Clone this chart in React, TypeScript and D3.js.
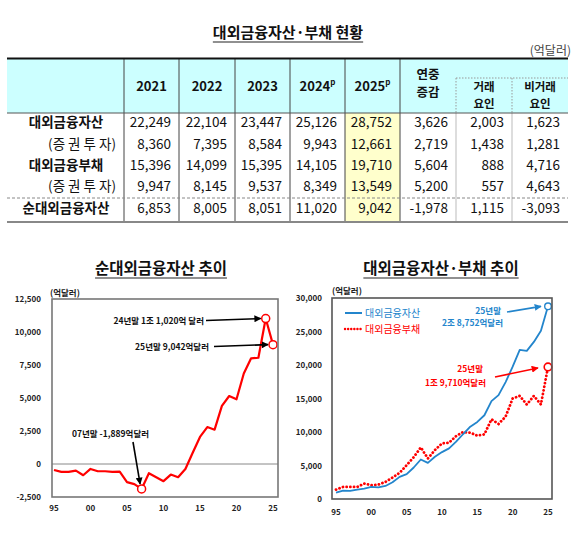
import React, { useRef, useEffect } from 'react';
import * as d3 from 'd3';

const FONT = '"Noto Sans CJK KR", "Noto Sans", sans-serif';

// ---- table data (억달러) ----
const tableYears = ['2021', '2022', '2023', '2024', '2025'];
const prelimYears = ['2024', '2025'];
const changeHeaders = [['연중', '증감'], ['거래', '요인'], ['비거래', '요인']];
const rowLabels = ['대외금융자산', '(증 권 투 자)', '대외금융부채', '(증 권 투 자)', '순대외금융자산'];
const assetsRow = [22249, 22104, 23447, 25126, 28752, 3626, 2003, 1623];
const assetsSecRow = [8360, 7395, 8584, 9943, 12661, 2719, 1438, 1281];
const liabRow = [15396, 14099, 15395, 14105, 19710, 5604, 888, 4716];
const liabSecRow = [9947, 8145, 9537, 8349, 13549, 5200, 557, 4643];
const netRow = [6853, 8005, 8051, 11020, 9042, -1978, 1115, -3093];

// ---- trend data, year-end (억달러) ----
const trendYears = d3.range(1995, 2026);
const netAssets = [
  -450, -600, -600, -500, -850, -375, -550, -550, -600, -575,
  -1375, -1525, -1889, -700, -1000, -1300, -800, -1000, -375, 850,
  2050, 2800, 2600, 4400, 5150, 4900, 6853, 8005, 8051, 11020, 9042,
];
const foreignAssets = [
  950, 1250, 1200, 1400, 1550, 1800, 1750, 1950, 2500, 3300,
  3700, 4700, 5900, 5400, 6300, 7000, 7550, 8550, 9700, 10800,
  11500, 12500, 14600, 15500, 17450, 19750, 22249, 22104, 23447, 25126, 28752,
];
const foreignLiabs = [
  1400, 1800, 1800, 1800, 2300, 2050, 2150, 2550, 3200, 3900,
  5050, 6250, 7700, 6050, 7300, 8300, 8400, 9400, 10000, 9900,
  9450, 9650, 11900, 11200, 12300, 15000, 15396, 14099, 15395, 14105, 19710,
];
const tickYears = [1995, 2000, 2005, 2010, 2015, 2020, 2025];
const netTicks = [-2500, 0, 2500, 5000, 7500, 10000, 12500];
const grossTicks = [0, 5000, 10000, 15000, 20000, 25000, 30000];

const BLUE = '#2385cc';
const RED = '#ff0000';

const fmt = (v: number) => d3.format(',')(v).replace('−', '-');

const App: React.FC = () => {
  const svgRef = useRef<SVGSVGElement | null>(null);

  useEffect(() => {
    if (!svgRef.current) return;
    const svg = d3.select(svgRef.current);
    svg.selectAll('*').remove();

    svg.append('rect').attr('width', 580).attr('height', 537).attr('fill', '#fff');

    const defs = svg.append('defs');
    [['arrK', '#000'], ['arrB', BLUE], ['arrR', RED]].forEach(([id, c]) => {
      defs.append('marker')
        .attr('id', id)
        .attr('viewBox', '0 0 10 10')
        .attr('refX', 9)
        .attr('refY', 5)
        .attr('markerWidth', 7)
        .attr('markerHeight', 7)
        .attr('markerUnits', 'userSpaceOnUse')
        .attr('orient', 'auto')
        .append('path')
        .attr('d', 'M0,0 L10,5 L0,10 Z')
        .attr('fill', c);
    });

    // underlined title helper
    const title = (x: number, y: number, txt: string, size: number) => {
      const t = svg.append('text')
        .attr('x', x).attr('y', y)
        .attr('text-anchor', 'middle')
        .attr('font-family', FONT)
        .attr('font-weight', 'bold')
        .attr('font-size', size)
        .attr('fill', '#111')
        .text(txt);
      const w = (t.node() as SVGTextElement).getComputedTextLength();
      svg.append('line')
        .attr('x1', x - w / 2).attr('x2', x + w / 2)
        .attr('y1', y + 4).attr('y2', y + 4)
        .attr('stroke', '#222').attr('stroke-width', 1.2);
    };

    // ================= TABLE =================
    const colEdges = [7, 124, 179, 235, 290, 345, 400, 456, 512, 568];
    const tTop = 58.5;
    const tHead = 113;
    const tBottom = 222;
    const rowY = [127, 148.5, 170, 191, 213];
    const g = svg.append('g').attr('font-family', FONT).attr('fill', '#111');

    title(288, 38, '대외금융자산·부채 현황', 15);
    g.append('text')
      .attr('x', 571).attr('y', 55)
      .attr('text-anchor', 'end')
      .attr('font-size', 12)
      .attr('fill', '#444')
      .text('(억달러)');

    g.append('rect')
      .attr('x', colEdges[0]).attr('y', tTop)
      .attr('width', colEdges[9] - colEdges[0]).attr('height', tHead - tTop)
      .attr('fill', '#ccffff');
    g.append('rect')
      .attr('x', colEdges[5]).attr('y', tHead)
      .attr('width', colEdges[6] - colEdges[5]).attr('height', tBottom - tHead)
      .attr('fill', '#ffffcc');

    // vertical rules
    colEdges.slice(1, 7).forEach(x => {
      g.append('line')
        .attr('x1', x).attr('x2', x).attr('y1', tTop).attr('y2', tBottom)
        .attr('stroke', '#444').attr('stroke-width', 1);
    });
    colEdges.slice(7, 9).forEach(x => {
      g.append('line')
        .attr('x1', x).attr('x2', x).attr('y1', 78).attr('y2', tHead)
        .attr('stroke', '#999').attr('stroke-width', 1).attr('stroke-dasharray', '1.5,1.5');
      g.append('line')
        .attr('x1', x).attr('x2', x).attr('y1', tHead).attr('y2', tBottom)
        .attr('stroke', '#bbb').attr('stroke-width', 1);
    });
    g.append('line')
      .attr('x1', colEdges[7]).attr('x2', colEdges[9]).attr('y1', 78).attr('y2', 78)
      .attr('stroke', '#999').attr('stroke-width', 1).attr('stroke-dasharray', '1.5,1.5');

    // horizontal rules
    g.append('line')
      .attr('x1', colEdges[0]).attr('x2', colEdges[9]).attr('y1', tTop).attr('y2', tTop)
      .attr('stroke', '#111').attr('stroke-width', 2);
    g.append('line')
      .attr('x1', colEdges[0]).attr('x2', colEdges[9]).attr('y1', tHead).attr('y2', tHead)
      .attr('stroke', '#555').attr('stroke-width', 1);
    g.append('line')
      .attr('x1', colEdges[0]).attr('x2', colEdges[9]).attr('y1', 198).attr('y2', 198)
      .attr('stroke', '#888').attr('stroke-width', 1).attr('stroke-dasharray', '3,2');
    g.append('line')
      .attr('x1', colEdges[0]).attr('x2', colEdges[9]).attr('y1', tBottom).attr('y2', tBottom)
      .attr('stroke', '#888').attr('stroke-width', 2);

    // header
    tableYears.forEach((yr, i) => {
      const cx = (colEdges[i + 1] + colEdges[i + 2]) / 2;
      const t = g.append('text')
        .attr('x', cx).attr('y', 91)
        .attr('text-anchor', 'middle')
        .attr('font-size', 13)
        .attr('font-weight', 'bold');
      t.append('tspan').text(yr);
      if (prelimYears.includes(yr)) {
        t.append('tspan').attr('font-size', 8).attr('dy', -6).text('p');
      }
    });
    changeHeaders.forEach((lines, i) => {
      const cx = (colEdges[i + 6] + colEdges[i + 7]) / 2;
      const ys = i === 0 ? [79, 97] : [91, 108];
      lines.forEach((ln, j) => {
        g.append('text')
          .attr('x', cx).attr('y', ys[j])
          .attr('text-anchor', 'middle')
          .attr('font-size', i === 0 ? 12.5 : 11.5)
          .attr('font-weight', 'bold')
          .text(ln);
      });
    });

    // body
    const rows = [assetsRow, assetsSecRow, liabRow, liabSecRow, netRow];
    rows.forEach((vals, r) => {
      const isSub = r === 1 || r === 3;
      g.append('text')
        .attr('x', isSub ? 116 : 66).attr('y', rowY[r])
        .attr('text-anchor', isSub ? 'end' : 'middle')
        .attr('font-size', 13.5)
        .attr('font-weight', isSub ? 'normal' : 'bold')
        .text(rowLabels[r]);
      vals.forEach((v, c) => {
        g.append('text')
          .attr('x', colEdges[c + 2] - 8).attr('y', rowY[r])
          .attr('text-anchor', 'end')
          .attr('font-size', 13.5)
          .text(fmt(v));
      });
    });

    // ================= shared chart bits =================
    const tickText = (x: number, y: number, s: string, anchor: string) =>
      svg.append('text')
        .attr('x', x).attr('y', y)
        .attr('text-anchor', anchor)
        .attr('font-family', FONT)
        .attr('font-weight', 'bold')
        .attr('font-size', 8)
        .attr('fill', '#222')
        .text(s);

    const note = (x: number, y: number, s: string, color: string, anchor = 'end') =>
      svg.append('text')
        .attr('x', x).attr('y', y)
        .attr('text-anchor', anchor)
        .attr('font-family', FONT)
        .attr('font-weight', 'bold')
        .attr('font-size', 8.5)
        .attr('fill', color)
        .text(s);

    const arrow = (x1: number, y1: number, x2: number, y2: number, color: string, id: string) =>
      svg.append('line')
        .attr('x1', x1).attr('y1', y1).attr('x2', x2).attr('y2', y2)
        .attr('stroke', color).attr('stroke-width', 1.6)
        .attr('marker-end', `url(#${id})`);

    // ================= LEFT: net assets =================
    const xL = d3.scaleLinear().domain([1995, 2025]).range([54, 273]);
    const yL = d3.scaleLinear().domain([-2500, 12500]).range([497, 299]);

    title(161, 274, '순대외금융자산 추이', 15.5);
    tickText(50, 296, '(억달러)', 'start').attr('font-size', 8.5);

    svg.append('line')
      .attr('x1', 52).attr('x2', 278).attr('y1', yL(0)).attr('y2', yL(0))
      .attr('stroke', '#888').attr('stroke-width', 1);

    netTicks.forEach(v => tickText(41, yL(v) + 3, fmt(v), 'end'));
    tickYears.forEach(yr => tickText(xL(yr), 511, String(yr).slice(2), 'middle'));

    const netLine = d3.line<number>()
      .x((_, i) => xL(trendYears[i]))
      .y(d => yL(d));
    svg.append('path')
      .datum(netAssets)
      .attr('d', netLine)
      .attr('fill', 'none')
      .attr('stroke', RED)
      .attr('stroke-width', 2.2)
      .attr('stroke-linejoin', 'round');

    [2007, 2024, 2025].forEach(yr => {
      const i = trendYears.indexOf(yr);
      svg.append('circle')
        .attr('cx', xL(yr)).attr('cy', yL(netAssets[i]))
        .attr('r', 4)
        .attr('fill', '#fff').attr('stroke', RED).attr('stroke-width', 1.5);
    });

    svg.append('rect')
      .attr('x', 52).attr('y', 299).attr('width', 226).attr('height', 198)
      .attr('fill', 'none').attr('stroke', '#777').attr('stroke-width', 1.6);

    const i24 = trendYears.indexOf(2024);
    const i25 = trendYears.indexOf(2025);
    const i07 = trendYears.indexOf(2007);
    note(204, 324, '24년말 1조 1,020억 달러', '#111');
    arrow(206, 320.5, xL(2024) - 5, yL(netAssets[i24]), '#000', 'arrK');
    note(209, 350, '25년말 9,042억달러', '#111');
    arrow(214, 346.5, xL(2025) - 5, yL(netAssets[i25]), '#000', 'arrK');
    note(72, 437, '07년말 -1,889억달러', '#111', 'start');
    arrow(133, 442, xL(2007) - 1.5, yL(netAssets[i07]) - 5, '#000', 'arrK');

    // ================= RIGHT: assets & liabilities =================
    const xR = d3.scaleLinear().domain([1995, 2025]).range([336, 548]);
    const yR = d3.scaleLinear().domain([0, 30000]).range([499, 298]);

    title(441, 274, '대외금융자산·부채 추이', 15.5);
    tickText(332, 294, '(억달러)', 'start').attr('font-size', 8.5);

    grossTicks.forEach(v => tickText(322, yR(v) + 3, fmt(v), 'end'));
    tickYears.forEach(yr => tickText(xR(yr), 515, String(yr).slice(2), 'middle'));

    const grossLine = d3.line<number>()
      .x((_, i) => xR(trendYears[i]))
      .y(d => yR(d));
    svg.append('path')
      .datum(foreignLiabs)
      .attr('d', grossLine)
      .attr('fill', 'none')
      .attr('stroke', RED)
      .attr('stroke-width', 2.8)
      .attr('stroke-linecap', 'round')
      .attr('stroke-dasharray', '0.1,3.6');
    svg.append('path')
      .datum(foreignAssets)
      .attr('d', grossLine)
      .attr('fill', 'none')
      .attr('stroke', BLUE)
      .attr('stroke-width', 1.8)
      .attr('stroke-linejoin', 'round');

    svg.append('circle')
      .attr('cx', xR(2025)).attr('cy', yR(foreignAssets[i25]))
      .attr('r', 3.3)
      .attr('fill', '#fff').attr('stroke', BLUE).attr('stroke-width', 1.4);
    svg.append('circle')
      .attr('cx', xR(2025)).attr('cy', yR(foreignLiabs[i25]))
      .attr('r', 3.8)
      .attr('fill', '#fff').attr('stroke', RED).attr('stroke-width', 1.6);

    svg.append('rect')
      .attr('x', 332).attr('y', 298).attr('width', 220).attr('height', 201)
      .attr('fill', 'none').attr('stroke', '#555').attr('stroke-width', 1.6);

    // legend
    svg.append('line')
      .attr('x1', 345).attr('x2', 362).attr('y1', 313).attr('y2', 313)
      .attr('stroke', BLUE).attr('stroke-width', 2);
    note(365, 316.5, '대외금융자산', BLUE, 'start').attr('font-size', 10).attr('font-weight', 'normal');
    svg.append('line')
      .attr('x1', 345).attr('x2', 362).attr('y1', 329).attr('y2', 329)
      .attr('stroke', RED).attr('stroke-width', 2.4)
      .attr('stroke-linecap', 'round').attr('stroke-dasharray', '0.1,3');
    note(365, 332.5, '대외금융부채', RED, 'start').attr('font-size', 10).attr('font-weight', 'normal');

    // callouts
    note(501, 314, '25년말', BLUE);
    note(503, 326, '2조 8,752억달러', BLUE);
    arrow(507, 312, xR(2025) - 7, yR(foreignAssets[i25]), BLUE, 'arrB');
    note(483, 372, '25년말', RED);
    note(486, 386, '1조 9,710억달러', RED);
    arrow(495, 377, xR(2025) - 10, yR(foreignLiabs[i25]) + 1, RED, 'arrR');
  }, []);

  return (
    <div style={{ position: 'absolute', left: 0, top: 0, width: 580, height: 537 }}>
      <svg ref={svgRef} width={580} height={537}></svg>
    </div>
  );
};

export default App;
